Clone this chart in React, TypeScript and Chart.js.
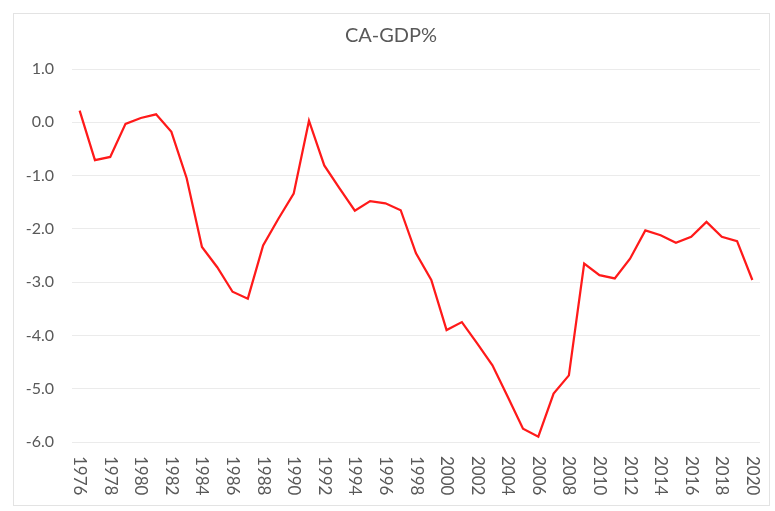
import { useRef, useEffect } from "react";
import { Chart, registerables, type ChartConfiguration, type Plugin } from "chart.js";

Chart.register(...registerables);

const years = [
  "1976", "1977", "1978", "1979", "1980", "1981", "1982", "1983", "1984", "1985",
  "1986", "1987", "1988", "1989", "1990", "1991", "1992", "1993", "1994", "1995",
  "1996", "1997", "1998", "1999", "2000", "2001", "2002", "2003", "2004", "2005",
  "2006", "2007", "2008", "2009", "2010", "2011", "2012", "2013", "2014", "2015",
  "2016", "2017", "2018", "2019", "2020",
];

const caGdp = [
  0.22, -0.71, -0.65, -0.03, 0.08, 0.15, -0.18, -1.05, -2.34, -2.72,
  -3.18, -3.31, -2.31, -1.81, -1.34, 0.03, -0.81, -1.24, -1.66, -1.48,
  -1.52, -1.65, -2.46, -2.96, -3.9, -3.75, -4.15, -4.56, -5.15, -5.75,
  -5.9, -5.09, -4.75, -2.65, -2.87, -2.93, -2.56, -2.03, -2.12, -2.26,
  -2.15, -1.87, -2.15, -2.23, -2.96,
];

const TEXT = "#595959";
const FONT = "Lato, 'Liberation Sans', sans-serif";

// Excel-style x labels: every other year, rotated to read top to bottom
const verticalYearLabels: Plugin = {
  id: "verticalYearLabels",
  afterDraw(chart) {
    const { ctx, scales, chartArea } = chart;
    const x = scales["x"];
    ctx.save();
    ctx.fillStyle = TEXT;
    ctx.font = `17px ${FONT}`;
    ctx.textAlign = "left";
    ctx.textBaseline = "middle";
    years.forEach((label, i) => {
      if (i % 2 !== 0) return;
      const px = x.getPixelForValue(i);
      ctx.save();
      ctx.translate(px, chartArea.bottom + 14);
      ctx.rotate(Math.PI / 2);
      ctx.fillText(label, 0, 0);
      ctx.restore();
    });
    ctx.restore();
  },
};

function CaGdpChart(): JSX.Element {
  const canvasRef = useRef<HTMLCanvasElement>(null);
  const chartRef = useRef<Chart | null>(null);

  useEffect(() => {
    const canvas = canvasRef.current;
    if (!canvas) return;

    const config: ChartConfiguration = {
      type: "line",
      data: {
        labels: years,
        datasets: [
          {
            data: caGdp,
            borderColor: "#ff1a1a",
            borderWidth: 2.25,
            pointRadius: 0,
            tension: 0,
            fill: false,
          },
        ],
      },
      options: {
        responsive: false,
        animation: false,
        layout: { padding: { top: 24, right: 15, left: 22, bottom: 0 } },
        plugins: {
          legend: { display: false },
          tooltip: { enabled: false },
          title: {
            display: true,
            text: "CA-GDP%",
            color: TEXT,
            font: { family: FONT, size: 20, weight: "normal" },
            padding: { top: 0, bottom: 21 },
          },
        },
        scales: {
          x: {
            offset: true,
            grid: { display: false },
            border: { display: false },
            ticks: { display: false },
            afterFit(scale) {
              scale.height = 69;
            },
          },
          y: {
            min: -6,
            max: 1,
            grid: { color: "#ebebeb", lineWidth: 1, drawTicks: false },
            border: { display: false },
            ticks: {
              stepSize: 1,
              padding: 18,
              color: TEXT,
              font: { family: FONT, size: 16 },
              callback: (v) => Number(v).toFixed(1),
            },
            afterFit(scale) {
              scale.width = 50;
            },
          },
        },
      },
      plugins: [verticalYearLabels],
    };

    chartRef.current?.destroy();
    Chart.getChart(canvas)?.destroy();
    chartRef.current = new Chart(canvas, config);

    return () => {
      chartRef.current?.destroy();
      chartRef.current = null;
    };
  }, []);

  return (
    <div style={{ position: "relative", width: 775, height: 511, background: "#fff" }}>
      <div
        style={{
          position: "absolute",
          left: 13,
          top: 13,
          width: 755,
          height: 491,
          border: "1px solid #e3e3e3",
        }}
      />
      <canvas ref={canvasRef} width={775} height={511} style={{ position: "absolute", left: 0, top: 0 }} />
    </div>
  );
}

export default function App(): JSX.Element {
  useEffect(() => {
    document.body.style.margin = "0";
  }, []);
  return <CaGdpChart />;
}
